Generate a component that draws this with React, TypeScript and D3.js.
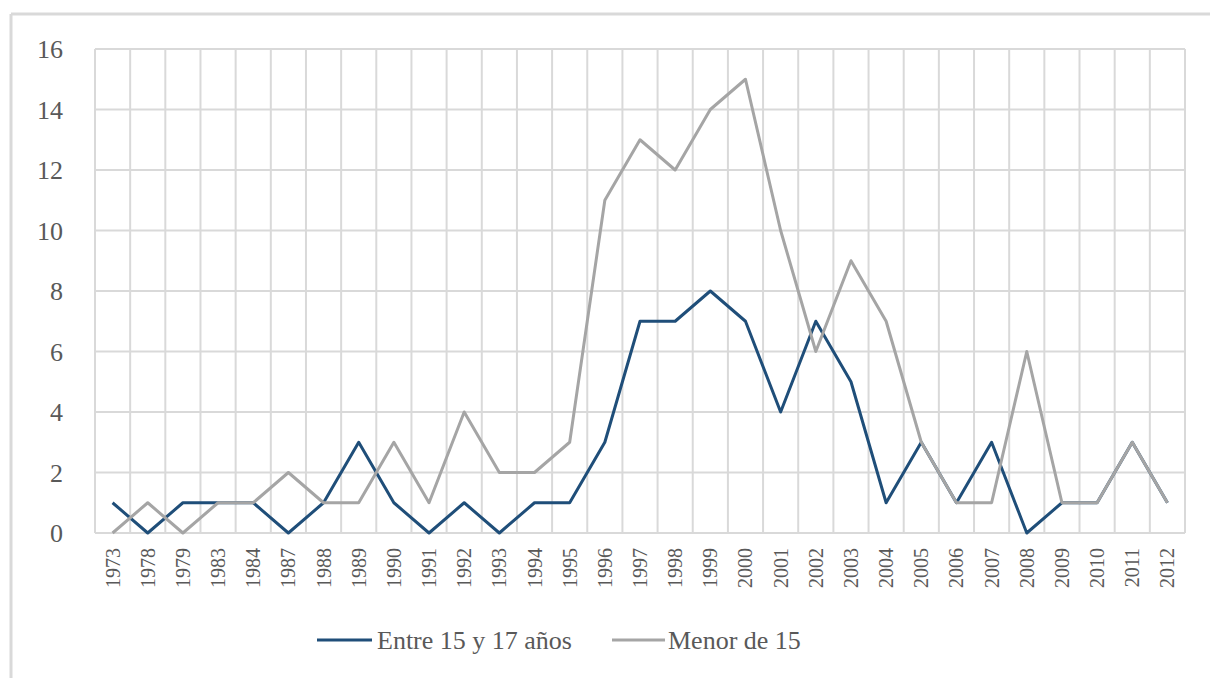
import React from 'react';
import * as d3 from 'd3';

const years = ['1973', '1978', '1979', '1983', '1984', '1987', '1988', '1989', '1990', '1991', '1992', '1993', '1994', '1995', '1996', '1997', '1998', '1999', '2000', '2001', '2002', '2003', '2004', '2005', '2006', '2007', '2008', '2009', '2010', '2011', '2012'];
const entre15y17 = [1, 0, 1, 1, 1, 0, 1, 3, 1, 0, 1, 0, 1, 1, 3, 7, 7, 8, 7, 4, 7, 5, 1, 3, 1, 3, 0, 1, 1, 3, 1];
const menor15 = [0, 1, 0, 1, 1, 2, 1, 1, 3, 1, 4, 2, 2, 3, 11, 13, 12, 14, 15, 10, 6, 9, 7, 3, 1, 1, 6, 1, 1, 3, 1];
const yTicks = [0, 2, 4, 6, 8, 10, 12, 14, 16];

const seriesList = [
  { name: 'Entre 15 y 17 años', values: entre15y17, color: '#1f4e79' },
  { name: 'Menor de 15', values: menor15, color: '#a5a5a5' },
];

const W = 1210;
const H = 678;
const left = 95;
const right = 1185;
const top = 49;
const bottom = 533;
const font = '"Liberation Serif", "DejaVu Serif", serif';
const textColor = '#595959';
const gridColor = '#d9d9d9';

export default function App() {
  const x = d3.scaleBand<string>().domain(years).range([left, right]).padding(0);
  const y = d3.scaleLinear().domain([0, 16]).range([bottom, top]);
  const cx = (yr: string) => (x(yr) as number) + x.bandwidth() / 2;

  const line = d3.line<number>()
    .x((_, i) => cx(years[i]))
    .y(d => y(d));

  const bounds = years.map(yr => x(yr) as number).concat([right]);

  return (
    <svg width={W} height={H} style={{ position: 'absolute', left: 0, top: 0, background: '#fff' }}>
      <rect x={0} y={0} width={W} height={H} fill="#fff" />
      {/* outer frame, cropped on right and bottom */}
      <line x1={11} y1={14} x2={W} y2={14} stroke={gridColor} strokeWidth={3} />
      <line x1={11} y1={14} x2={11} y2={H} stroke={gridColor} strokeWidth={3} />

      {/* grid */}
      {yTicks.map(t => (
        <line key={'h' + t} x1={left} x2={right} y1={y(t)} y2={y(t)} stroke={gridColor} strokeWidth={2} />
      ))}
      {bounds.map((bx, i) => (
        <line key={'v' + i} x1={bx} x2={bx} y1={top} y2={bottom} stroke={gridColor} strokeWidth={2} />
      ))}

      {/* y tick labels */}
      {yTicks.map(t => (
        <text key={'yt' + t} x={63} y={y(t)} dy="0.35em" textAnchor="end"
          fontFamily={font} fontSize={26} fill={textColor}>{t}</text>
      ))}

      {/* x tick labels */}
      {years.map(yr => (
        <text key={'xt' + yr} transform={`translate(${cx(yr)},548) rotate(-90)`}
          dy="0.35em" textAnchor="end" fontFamily={font} fontSize={20} fill={textColor}>{yr}</text>
      ))}

      {/* series */}
      {seriesList.map(s => (
        <path key={s.name} d={line(s.values) || ''} fill="none" stroke={s.color}
          strokeWidth={3} strokeLinejoin="round" />
      ))}

      {/* legend */}
      <line x1={317} x2={372} y1={640} y2={640} stroke={seriesList[0].color} strokeWidth={3} />
      <text x={377} y={640} dy="0.35em" fontFamily={font} fontSize={26} fill={textColor}>{seriesList[0].name}</text>
      <line x1={612} x2={665} y1={640} y2={640} stroke={seriesList[1].color} strokeWidth={3} />
      <text x={668} y={640} dy="0.35em" fontFamily={font} fontSize={26} fill={textColor}>{seriesList[1].name}</text>
    </svg>
  );
}
